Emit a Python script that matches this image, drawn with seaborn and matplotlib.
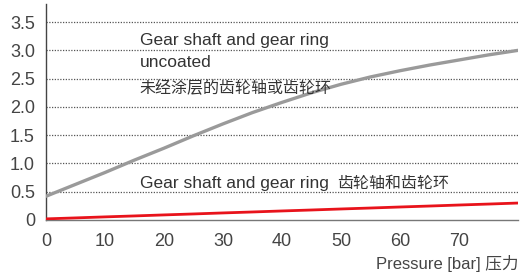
import matplotlib
matplotlib.use("Agg")
import matplotlib.pyplot as plt
import seaborn as sns
import pandas as pd

# ============================================================
# Data
# ============================================================

pressure = [0, 5, 10, 15, 20, 25, 30, 35, 40, 45, 50, 55, 60, 65, 70, 75, 80]
uncoated = [0.42, 0.63, 0.84, 1.06, 1.27, 1.49, 1.70, 1.90, 2.08, 2.25,
            2.40, 2.53, 2.64, 2.74, 2.83, 2.92, 3.00]
coated = [0.02, 0.037, 0.055, 0.072, 0.09, 0.107, 0.125, 0.142, 0.16,
          0.177, 0.195, 0.212, 0.23, 0.247, 0.265, 0.282, 0.30]

x_ticks = [0, 10, 20, 30, 40, 50, 60, 70, 80]
x_tick_labels = ["0", "10", "20", "30", "40", "50", "60", "70", ""]
y_ticks = [0, 0.5, 1.0, 1.5, 2.0, 2.5, 3.0, 3.5]
y_tick_labels = ["0", "0.5", "1.0", "1.5", "2.0", "2.5", "3.0", "3.5"]

df = pd.DataFrame({"pressure": pressure, "uncoated": uncoated, "coated": coated})

# ============================================================
# Plot
# ============================================================

sns.set_style("white")
fonts = ["Liberation Sans", "Noto Sans CJK SC", "DejaVu Sans"]
plt.rcParams["font.family"] = fonts

fig = plt.figure(figsize=(5.24, 2.75), dpi=100)
ax = fig.add_axes([46 / 524, 55 / 275, 472 / 524, 216 / 275])

for y in y_ticks[1:]:
    ax.axhline(y, color="#555555", lw=0.9, ls=(0, (1, 1.2)), zorder=1)

sns.lineplot(data=df, x="pressure", y="uncoated", ax=ax, color="#9a9a9a", lw=2.4, zorder=3)
sns.lineplot(data=df, x="pressure", y="coated", ax=ax, color="#e8131b", lw=2.0, zorder=3)

ax.set_xlim(0, 80)
ax.set_ylim(0, 3.82)
ax.set_xticks(x_ticks)
ax.set_xticklabels(x_tick_labels)
ax.set_yticks(y_ticks)
ax.set_yticklabels(y_tick_labels)
ax.tick_params(axis="x", direction="in", length=10, width=1, color="#555555",
               labelsize=13, labelcolor="#444444", pad=9)
ax.tick_params(axis="y", length=0, labelsize=13, labelcolor="#444444", pad=8)

for side in ["top", "right"]:
    ax.spines[side].set_visible(False)
ax.spines["left"].set_color("#444444")
ax.spines["bottom"].set_color("#777777")
ax.spines["left"].set_linewidth(1)
ax.spines["bottom"].set_linewidth(1)

ax.set_xlabel("")
ax.set_ylabel("")

txt = dict(color="#333333", va="center", ha="left", family=fonts)
ax.text(15.9, 3.18, "Gear shaft and gear ring", fontsize=12.5, **txt)
ax.text(15.9, 2.79, "uncoated", fontsize=12.5, **txt)
ax.text(15.9, 2.33, "未经涂层的齿轮轴或齿轮环", fontsize=11.5, **txt)
ax.text(15.9, 0.65, "Gear shaft and gear ring", fontsize=12.5, **txt)
ax.text(49.3, 0.65, "齿轮轴和齿轮环", fontsize=11.5, **txt)

fig.text(518 / 524, 1 - 263 / 275, "Pressure [bar] 压力", ha="right", va="center",
         color="#444444", fontsize=12, family=fonts)

fig.savefig("out.png", dpi=100)
